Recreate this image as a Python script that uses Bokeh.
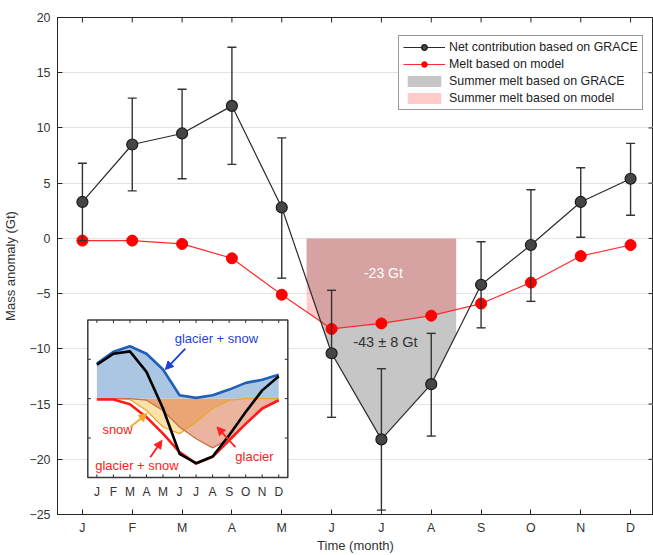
import numpy as np
from bokeh.plotting import figure
from bokeh.models import (ColumnDataSource, Range1d, FixedTicker, Legend, LegendItem,
                          Arrow, NormalHead)
from bokeh.core.properties import value
from bokeh.embed import file_html
from bokeh.resources import INLINE

# ---------------- data ----------------
months = [1, 2, 3, 4, 5, 6, 7, 8, 9, 10, 11, 12]
month_labels = ["J", "F", "M", "A", "M", "J", "J", "A", "S", "O", "N", "D"]

grace = [3.3, 8.5, 9.5, 12.0, 2.8, -10.4, -18.2, -13.2, -4.2, -0.6, 3.3, 5.4]
grace_hi = [6.8, 12.7, 13.5, 17.3, 9.1, -4.7, -11.8, -8.6, -0.3, 4.4, 6.4, 8.6]
grace_lo = [-0.2, 4.3, 5.4, 6.7, -3.6, -16.2, -24.6, -17.9, -8.1, -5.7, 0.1, 2.1]
model = [-0.2, -0.2, -0.5, -1.8, -5.1, -8.2, -7.7, -7.0, -5.9, -4.0, -1.6, -0.6]

summer_start, summer_end = 5.5, 8.5
y_ticks = [-25, -20, -15, -10, -5, 0, 5, 10, 15, 20]

# inset series (arbitrary units)
ins_blue = [8.9, 11.9, 13.3, 11.4, 7.4, 0.85, 0.2, 0.85, 2.3, 4.0, 4.8, 6.1]
ins_black = [8.6, 11.4, 12.0, 6.8, -2.5, -14.0, -16.4, -14.7, -9.3, -3.4, 2.1, 5.7]
ins_red = [-0.2, -0.2, -1.4, -4.7, -8.9, -13.6, -16.5, -14.8, -10.6, -6.4, -2.5, -0.4]
ins_snow = [0, 0, -0.2, -3.0, -7.2, -8.9, -5.9, -2.5, -0.4, 0, 0, 0]
ins_glacier = [0, 0, 0, -0.4, -3.0, -7.2, -10.2, -12.5, -10.2, -6.4, -2.5, -0.4]
ins_yticks = [-10, 0, 10]

FONT = "Liberation Sans"
AX = "#262626"

# ---------------- main figure ----------------
x_start, x_end = 0.5, 12.46
y_start, y_end = -25, 20
FRAME_W, FRAME_H = 596, 497
p = figure(width=653, height=555, x_range=Range1d(x_start, x_end), y_range=Range1d(y_start, y_end),
           output_backend="svg", toolbar_location=None,
           min_border_left=57, min_border_right=0, min_border_top=17, min_border_bottom=41)
p.background_fill_color = "white"
p.border_fill_color = "white"
p.outline_line_color = AX
p.outline_line_width = 1

p.xaxis.ticker = FixedTicker(ticks=months)
p.xaxis.major_label_overrides = {m: l for m, l in zip(months, month_labels)}
p.yaxis.ticker = FixedTicker(ticks=y_ticks)
for ax in (p.xaxis[0], p.yaxis[0]):
    ax.major_tick_in = 5
    ax.major_tick_out = 0
    ax.minor_tick_in = 0
    ax.minor_tick_out = 0
    ax.axis_line_color = AX
    ax.major_tick_line_color = AX
    ax.major_label_text_font = FONT
    ax.major_label_text_font_size = "12.4px"
    ax.major_label_text_color = "#333333"
    ax.axis_label_text_font = FONT
    ax.axis_label_text_font_size = "13px"
    ax.axis_label_text_font_style = "normal"
    ax.axis_label_text_color = "#333333"
p.xaxis.axis_label = "Time (month)"
p.yaxis.axis_label = "Mass anomaly (Gt)"
p.xaxis.major_label_standoff = 6
p.yaxis.major_label_standoff = 7
p.xaxis.axis_label_standoff = 0
p.yaxis.axis_label_standoff = 8

p.xgrid.visible = False
p.ygrid.ticker = FixedTicker(ticks=y_ticks)
p.ygrid.grid_line_color = "#e3e3e3"
p.ygrid.grid_line_width = 1

# top and right inward ticks of the box
tick_y = 5 * (y_end - y_start) / FRAME_H
tick_x = 5 * (x_end - x_start) / FRAME_W
p.segment(x0=months, x1=months, y0=[y_end] * 12, y1=[y_end - tick_y] * 12, line_color=AX)
p.segment(x0=[x_end] * len(y_ticks), x1=[x_end - tick_x] * len(y_ticks), y0=y_ticks, y1=y_ticks,
          line_color=AX)

# summer shading
sx = [summer_start] + [m for m in months if summer_start < m < summer_end] + [summer_end]
g_edge = list(np.interp(sx, months, grace))
m_edge = list(np.interp(sx, months, model))
zeros = [0] * len(sx)
src_sum = ColumnDataSource(dict(x=sx, zero=zeros, g=g_edge, m=m_edge))
r_gray = p.varea(x="x", y1="zero", y2="g", source=src_sum, fill_color="#c6c6c6")
r_pink = p.varea(x="x", y1="zero", y2="m", source=src_sum, fill_color="#ff4646", fill_alpha=0.28)

p.text(x=[7.04], y=[-3.1], text=["-23 Gt"], text_color="white", text_font=value(FONT),
       text_font_size="14px", text_align="center", text_baseline="middle")
p.text(x=[7.08], y=[-9.4], text=["-43 \u00b1 8 Gt"], text_color="#333333", text_font=value(FONT),
       text_font_size="14.5px", text_align="center", text_baseline="middle")

# ---------------- inset (own ranges mapped onto a box) ----------------
box_main_x = (1.108, 5.122)
box_main_y = (-21.64, -7.38)
ux = (0.45, 12.55)
uy = (-20.0, 20.0)

def ext_range(main_lo, main_hi, box, u):
    k = (u[1] - u[0]) / (box[1] - box[0])
    return Range1d(u[0] + (main_lo - box[0]) * k, u[0] + (main_hi - box[0]) * k)

p.extra_x_ranges = {"ix": ext_range(x_start, x_end, box_main_x, ux)}
p.extra_y_ranges = {"iy": ext_range(y_start, y_end, box_main_y, uy)}
IR = dict(x_range_name="ix", y_range_name="iy")

p.quad(left=[ux[0]], right=[ux[1]], bottom=[uy[0]], top=[uy[1]], fill_color="white",
       line_color=None, **IR)
src_in = ColumnDataSource(dict(x=months, zero=[0] * 12, blue=ins_blue, black=ins_black, red=ins_red,
                               snow=ins_snow, glacier=ins_glacier))
p.varea(x="x", y1="zero", y2="blue", source=src_in, fill_color="#abc6e3", **IR)
p.varea(x="x", y1="zero", y2="snow", source=src_in, fill_color="#fbe2a8", **IR)
p.varea(x="x", y1="zero", y2="glacier", source=src_in, fill_color="#d8693f", fill_alpha=0.5, **IR)
p.line(x="x", y="snow", source=src_in, line_color="#e9a730", line_width=1.3, **IR)
p.line(x="x", y="glacier", source=src_in, line_color="#c87048", line_width=1.2, **IR)
p.line(x="x", y="red", source=src_in, line_color="#ff1a1a", line_width=2.6, **IR)
p.line(x="x", y="blue", source=src_in, line_color="#1f5fb8", line_width=2.6, **IR)
p.line(x="x", y="black", source=src_in, line_color="black", line_width=2.6, **IR)

# inset ticks
tx = 3 * (ux[1] - ux[0]) / 200.0
ty = 3 * (uy[1] - uy[0]) / 157.4
p.segment(x0=months, x1=months, y0=[uy[1]] * 12, y1=[uy[1] - ty] * 12, line_color=AX, **IR)
p.segment(x0=months, x1=months, y0=[uy[0]] * 12, y1=[uy[0] + ty] * 12, line_color=AX, **IR)
p.segment(x0=[ux[0]] * 3, x1=[ux[0] + tx] * 3, y0=ins_yticks, y1=ins_yticks, line_color=AX, **IR)
p.segment(x0=[ux[1]] * 3, x1=[ux[1] - tx] * 3, y0=ins_yticks, y1=ins_yticks, line_color=AX, **IR)
p.quad(left=[ux[0]], right=[ux[1]], bottom=[uy[0]], top=[uy[1]], fill_color=None,
       line_color="#3a3a3a", line_width=1.5, **IR)
p.text(x=months, y=[-23.8] * 12, text=month_labels, text_font=value(FONT), text_font_size="12px",
       text_color="#333333", text_align="center", text_baseline="middle", **IR)

# inset annotations
p.text(x=[8.23], y=[15.3], text=["glacier + snow"], text_color="#1f3fd6", text_font=value(FONT),
       text_font_size="13px", text_align="center", text_baseline="middle", **IR)
p.text(x=[2.25], y=[-7.9], text=["snow"], text_color="#ff2020", text_font=value(FONT),
       text_font_size="13px", text_align="center", text_baseline="middle", **IR)
p.text(x=[3.42], y=[-17.0], text=["glacier + snow"], text_color="#ff2020", text_font=value(FONT),
       text_font_size="13px", text_align="center", text_baseline="middle", **IR)
p.text(x=[10.53], y=[-14.7], text=["glacier"], text_color="#ff2020", text_font=value(FONT),
       text_font_size="13px", text_align="center", text_baseline="middle", **IR)

def arrow(x0, y0, x1, y1, color):
    a = Arrow(end=NormalHead(size=8, fill_color=color, line_color=color), x_start=x0, y_start=y0,
              x_end=x1, y_end=y1, line_color=color, line_width=1.8, **IR)
    p.add_layout(a)

arrow(6.35, 12.7, 5.14, 7.4, "#1f3fd6")
arrow(3.02, -7.2, 4.03, -3.8, "#f5a623")
arrow(4.23, -14.9, 4.94, -10.6, "#ff2020")
arrow(9.38, -12.3, 8.27, -7.2, "#ff2020")

# ---------------- main series ----------------
src = ColumnDataSource(dict(x=months, g=grace, hi=grace_hi, lo=grace_lo, m=model))
r_mline = p.line(x="x", y="m", source=src, line_color="#ff2a2a", line_width=1.2)
r_mdot = p.scatter(x="x", y="m", source=src, size=11, fill_color="#ff0000", line_color="#ff0000")
p.segment(x0="x", x1="x", y0="lo", y1="hi", source=src, line_color="#333333", line_width=1.4)
p.scatter(x="x", y="hi", source=src, marker="dash", size=9, line_color="#333333", line_width=1.4)
p.scatter(x="x", y="lo", source=src, marker="dash", size=9, line_color="#333333", line_width=1.4)
r_gline = p.line(x="x", y="g", source=src, line_color="#2a2a2a", line_width=1.2)
r_gdot = p.scatter(x="x", y="g", source=src, size=11, fill_color="#454545", line_color="#1a1a1a",
                   line_width=1.2)

legend = Legend(items=[
    LegendItem(label="Net contribution based on GRACE", renderers=[r_gline, r_gdot]),
    LegendItem(label="Melt based on model", renderers=[r_mline, r_mdot]),
    LegendItem(label="Summer melt based on GRACE", renderers=[r_gray]),
    LegendItem(label="Summer melt based on model", renderers=[r_pink]),
])
legend.label_text_font = FONT
legend.label_text_font_size = "12.4px"
legend.label_text_color = "#222222"
legend.glyph_width = 42
legend.glyph_height = 14
legend.label_height = 14
legend.spacing = 3
legend.padding = 4
legend.margin = 0
legend.label_standoff = 4
legend.border_line_color = "#333333"
legend.border_line_width = 1
legend.background_fill_alpha = 1
legend.location = (341, 404)
p.add_layout(legend)

open("out.html", "w").write(file_html(p, INLINE))
